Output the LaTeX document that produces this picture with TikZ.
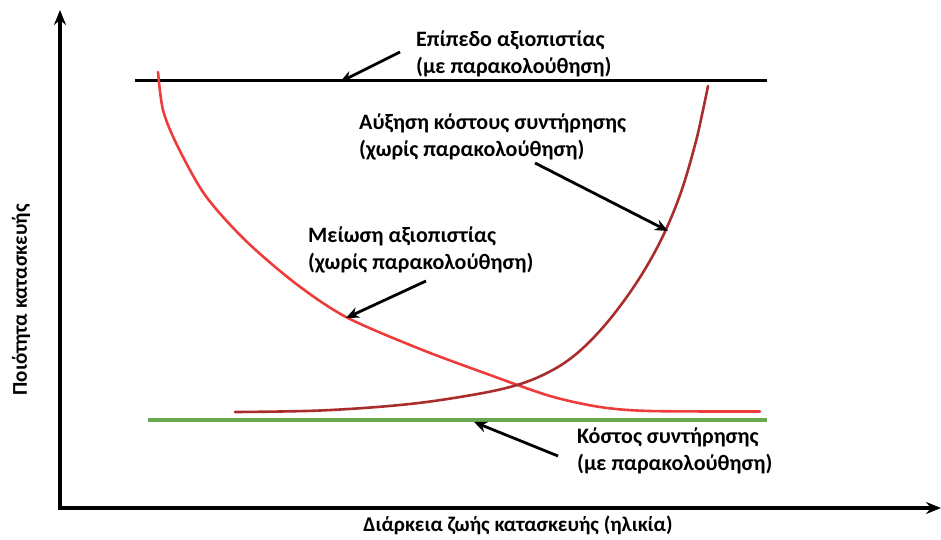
\documentclass[tikz,border=0pt]{standalone}
\usepackage{fontspec}
\setmainfont{Carlito}[BoldFont={Carlito Bold}]
\newfontfamily\boldcal{Carlito Bold}
\usetikzlibrary{arrows.meta}
\definecolor{fallred}{RGB}{238,60,60}
\definecolor{risered}{RGB}{170,45,45}
\definecolor{levelgreen}{RGB}{106,168,79}
\definecolor{shadeblue}{RGB}{170,195,210}
\tikzset{
  axis/.style={line width=3.4pt,-{Stealth[length=15pt,width=12pt]}},
  pointer/.style={line width=2.8pt,-{Stealth[length=13pt,width=11pt]}},
  label/.style={font=\boldcal\fontsize{22}{27}\selectfont,align=left,inner sep=0pt,anchor=north west},
  axislabel/.style={font=\boldcal\fontsize{21}{24}\selectfont,inner sep=0pt},
}
\begin{document}
\begin{tikzpicture}[x=1pt,y=-1pt]
\useasboundingbox (0,0) rectangle (941,540);
% axes
\coordinate (O) at (60,508);
\coordinate (ytop) at (60,10);
\coordinate (xend) at (941,508);
\draw[axis] (O) -- (ytop);
\draw[axis] (58.3,508) -- (xend);
\node[axislabel,rotate=90] (ylab) at (21,300) {Ποιότητα κατασκευής};
\node[axislabel] (xlab) at (518,525) {Διάρκεια ζωής κατασκευής (ηλικία)};
% reliability level with monitoring
\coordinate (relL) at (135,81);
\coordinate (relR) at (767,81);
\draw[line width=3pt] (relL) -- (relR);
% maintenance cost with monitoring
\coordinate (costL) at (148,420);
\coordinate (costR) at (767,420);
\draw[shadeblue,line width=0.6pt] (148,421.6) -- (565,421.6);
\draw[levelgreen,line width=3.2pt] (costL) -- (costR);
% reliability decrease without monitoring
\draw[fallred,line width=2.6pt,line cap=round] plot[smooth,tension=0.5] coordinates {
  (158,72) (163,110) (177,145) (205,195) (245,240) (295,283) (346,317)
  (420,349) (490,375) (550,396) (600,407) (650,411) (760,411.5)};
% maintenance cost increase without monitoring
\draw[risered,line width=2.6pt,line cap=round] plot[smooth,tension=0.6] coordinates {
  (235,412) (320,410.5) (400,405) (460,397) (510,387) (545,374) (575,355)
  (605,325) (635,285) (660,242) (680,195) (695,145) (703,110) (708,86)};
% labels
\node[label] (tRel) at (416,31) {Επίπεδο αξιοπιστίας\\(με παρακολούθηση)};
\node[label] (tRise) at (359,114) {Αύξηση κόστους συντήρησης\\(χωρίς παρακολούθηση)};
\node[label] (tFall) at (308,227) {Μείωση αξιοπιστίας\\(χωρίς παρακολούθηση)};
\node[label] (tCost) at (577,428) {Κόστος συντήρησης\\(με παρακολούθηση)};
% pointers
\coordinate (pRel) at (340,82);
\coordinate (pRise) at (668,231);
\coordinate (pFall) at (346,318);
\coordinate (pCost) at (474,422);
\coordinate (sRel) at (400,52);
\coordinate (sRise) at (535,163);
\coordinate (sFall) at (426,281);
\coordinate (sCost) at (558,456);
\draw[pointer] (sRel) -- (pRel);
\draw[pointer] (sRise) -- (pRise);
\draw[pointer] (sFall) -- (pFall);
\draw[pointer] (sCost) -- (pCost);
\end{tikzpicture}
\end{document}
